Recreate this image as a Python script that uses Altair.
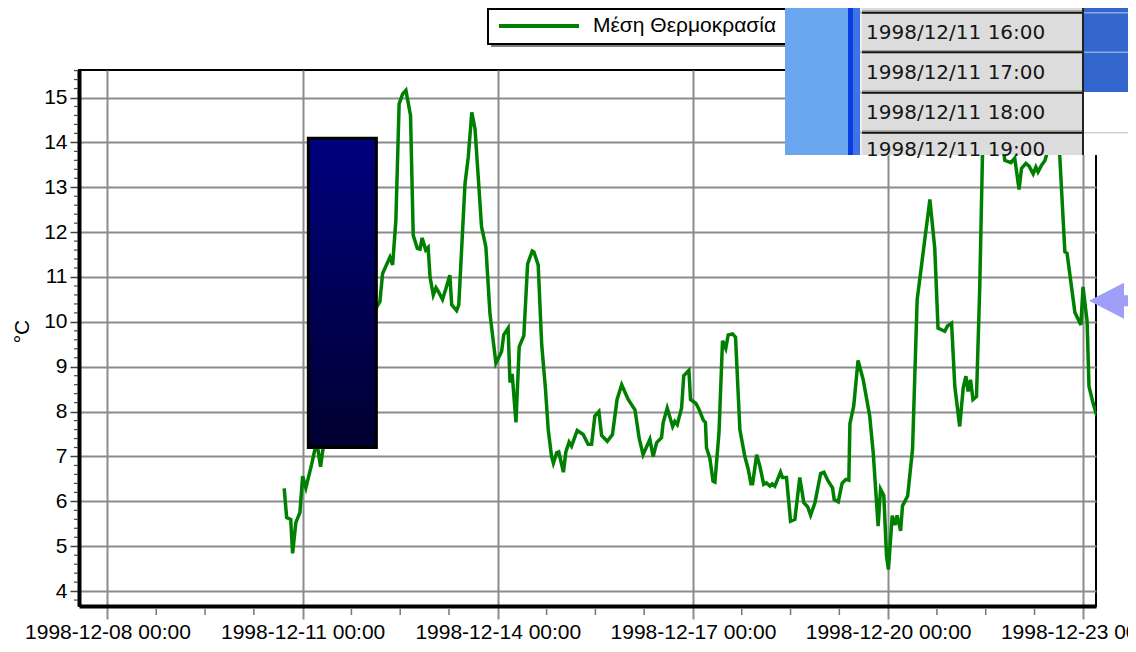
import altair as alt
import pandas as pd

# ---------------- values ----------------
series_name = "Μέση Θερμοκρασία"
y_title = "°C"
start_time = "1998-12-08 00:00"

# hours after 1998-12-08 00:00 for each traced vertex of the curve
hours = [65.2, 66.1, 67.6, 68.3, 69.5, 71.0, 72.0, 73.2, 75.3, 76.5, 77.3, 78.6,
         80.5, 83.0, 86.0, 89.0, 92.0, 95.0, 98.0,
         100.5, 101.5, 104.2, 105.2, 106.4, 107.6, 108.9, 110.1, 111.8, 112.8,
         114.3, 115.3, 116.1, 117.4, 118.3, 119.0, 120.2, 121.2, 122.4, 123.6,
         124.9, 126.3, 127.0, 128.8, 129.6, 131.9, 133.1, 134.4, 135.6, 138.0,
         139.6, 141.1, 143.3, 145.4, 146.2, 147.8, 148.5, 149.3, 150.7, 151.9,
         153.6, 155.0, 156.7, 157.3, 158.9, 160.2, 161.6, 162.6, 163.8, 164.5,
         165.7, 166.5, 168.2, 169.1, 170.3, 171.2, 173.3, 175.5, 177.3, 178.6,
         179.8, 181.3, 182.3, 184.4, 186.3, 188.0, 189.7, 192.1, 194.6, 196.2,
         197.6, 200.1, 201.3, 202.6, 204.4, 205.0, 206.5, 208.5, 209.3, 210.2,
         211.8, 212.6, 214.5, 215.1, 217.1, 218.3, 219.8, 220.6, 221.0, 222.2,
         223.4, 224.1, 225.6, 226.9, 228.1, 229.0, 230.6, 231.7, 233.3, 235.1,
         236.4, 237.4, 238.0, 239.5, 240.7, 242.1, 243.1, 244.4, 245.2, 246.2,
         248.3, 249.0, 250.5, 252.0, 253.6, 255.4, 256.9, 258.3, 259.4, 261.0,
         263.1, 264.3, 265.9, 267.5, 268.1, 269.6, 271.0, 272.4, 273.5, 273.9,
         275.3, 276.9, 278.8, 281.2, 282.5, 284.3, 285.2, 286.4, 287.4, 288.1,
         289.5, 290.5, 291.3, 292.6, 293.3, 295.2, 297.0, 298.7, 303.4, 305.2,
         306.4, 308.9, 309.9, 311.4, 312.6, 314.4, 315.7, 316.7, 317.5, 318.4,
         319.3, 320.6, 321.8, 322.8, 323.7, 325.5, 327.7, 329.9, 331.0, 333.3,
         334.7, 336.3, 337.2, 338.8, 340.0, 341.5, 342.5, 343.3, 344.6, 345.8,
         346.4, 347.6, 349.5, 350.6, 351.3, 353.2, 354.0, 356.9, 359.1, 359.9,
         361.4, 362.1, 363.6, 365.0]

temps = [6.29, 5.64, 5.6, 4.84, 5.53, 5.75, 6.56, 6.3, 6.82, 7.15, 7.3, 6.77,
         7.6, 8.3, 8.8, 9.3, 9.6, 9.9, 10.2,
         10.45, 11.08, 11.44, 11.27, 12.27, 14.86, 15.08, 15.16, 14.6, 11.93,
         11.64, 11.62, 11.87, 11.6, 11.66, 11.0, 10.6, 10.76, 10.64, 10.5,
         10.75, 11.04, 10.38, 10.25, 10.38, 13.08, 13.67, 14.67, 14.3, 12.12,
         11.67, 10.19, 9.08, 9.34, 9.71, 9.86, 8.65, 8.84, 7.76, 9.45,
         9.69, 11.29, 11.58, 11.56, 11.27, 9.49, 8.49, 7.6, 7.01, 6.85,
         7.08, 7.1, 6.65, 7.1, 7.32, 7.23, 7.58, 7.49, 7.27, 7.27,
         7.9, 8.0, 7.47, 7.34, 7.49, 8.27, 8.6, 8.27, 8.04, 7.39,
         7.04, 7.38, 7.0, 7.31, 7.42, 7.75, 8.08, 7.67, 7.78, 7.71,
         8.08, 8.8, 8.92, 8.27, 8.18, 8.04, 7.81, 7.76, 7.19, 6.97,
         6.45, 6.43, 7.53, 9.58, 9.41, 9.71, 9.73, 9.66, 7.6, 7.01,
         6.71, 6.39, 6.39, 7.04, 6.78, 6.38, 6.41, 6.34, 6.39, 6.34,
         6.65, 6.53, 6.53, 5.56, 5.6, 6.53, 5.97, 5.88, 5.69, 5.97,
         6.62, 6.65, 6.45, 6.3, 6.04, 5.99, 6.4, 6.49, 6.47, 7.73,
         8.12, 9.14, 8.71, 7.9, 7.08, 5.45, 6.27, 6.13, 4.79, 4.48,
         5.68, 5.47, 5.69, 5.34, 5.9, 6.12, 7.16, 10.49, 12.73, 11.64,
         9.86, 9.79, 9.91, 9.97, 8.56, 7.67, 8.53, 8.79, 8.45, 8.71,
         8.27, 8.34, 10.78, 13.71, 14.8, 15.4, 15.2, 14.4, 13.6, 13.55,
         13.65, 12.95, 13.42, 13.53, 13.47, 13.3, 13.45, 13.34, 13.49, 13.59,
         13.71, 14.5, 14.8, 14.3, 13.71, 11.56, 11.53, 10.21, 9.93, 10.78,
         10.01, 8.56, 8.19, 7.9]

major_days = [8, 11, 14, 17, 20, 23]           # labelled x ticks, 00:00 of these days
y_ticks = [4, 5, 6, 7, 8, 9, 10, 11, 12, 13, 14, 15]
list_items = ["1998/12/11 16:00", "1998/12/11 17:00",
              "1998/12/11 18:00", "1998/12/11 19:00"]
# dark block drawn over the plot (hours after start, temperature)
block_hours = [74.1, 99.2]
block_temps = [14.09, 7.2]

assert len(hours) == len(temps)

# ---------------- tables ----------------
t0 = pd.Timestamp(start_time)
fmt = "%Y-%m-%dT%H:%M:%S"
df = pd.DataFrame({
    "time": (t0 + pd.to_timedelta(hours, unit="h")).strftime(fmt),
    "temp": temps,
})
minor_hours = [h for h in range(18, 365, 18) if h % 72]
df_xminor = pd.DataFrame({"time": (t0 + pd.to_timedelta(minor_hours, unit="h")).strftime(fmt)})
df_yminor = pd.DataFrame({"temp": [round(k * 0.2, 1) for k in range(19, 79) if k % 5]})
df_block = pd.DataFrame({
    "time": [(t0 + pd.Timedelta(hours=block_hours[0])).strftime(fmt)],
    "t1": [(t0 + pd.Timedelta(hours=block_hours[1])).strftime(fmt)],
    "temp": [block_temps[0]], "v1": [block_temps[1]],
})
one = pd.DataFrame({"k": [0]})

W, H = 1017, 536
OX, OY = 79, 70  # page position of the plot area


def px(x):
    return x - OX


def py(y):
    return y - OY


xs = alt.Scale(domain=[alt.DateTime(year=1998, month=12, date=7, hours=13, minutes=30),
                       alt.DateTime(year=1998, month=12, date=23, hours=4, minutes=41)])
ys = alt.Scale(domain=[3.668, 15.613], nice=False, zero=False)

x_axis = alt.Axis(
    values=[alt.DateTime(year=1998, month=12, date=d) for d in major_days],
    format="%Y-%m-%d %H:%M", title=None,
    labelFont="Liberation Sans", labelFontSize=21, labelColor="black",
    labelPadding=2, labelFlush=False, labelOverlap=False,
    tickSize=13, tickColor="#8c8c8c", tickWidth=2,
    domainColor="black", domainWidth=4,
    grid=True, gridColor="#8c8c8c", gridWidth=2, gridOpacity=1,
)
y_axis = alt.Axis(
    values=y_ticks, title=y_title,
    titleFont="Liberation Sans", titleFontSize=21, titleFontWeight="normal",
    titleColor="black", titleAngle=270, titleX=-57, titleY=261,
    titleAlign="center", titleBaseline="middle",
    labelFont="Liberation Sans", labelFontSize=21, labelColor="black",
    labelPadding=3, tickSize=9, tickColor="#444444", tickWidth=1.5,
    domainColor="black", domainWidth=4,
    grid=True, gridColor="#8c8c8c", gridWidth=2, gridOpacity=1,
)

X = alt.X("time:T", scale=xs, axis=x_axis)
Y = alt.Y("temp:Q", scale=ys, axis=y_axis)

line = alt.Chart(df).mark_line(color="#008000", strokeWidth=3.5, clip=True).encode(x=X, y=Y)

x_minor = alt.Chart(df_xminor).mark_rule(color="#777777", strokeWidth=1.5).encode(
    x=X, y=alt.value(H + 2), y2=alt.value(H + 9),
)
y_minor = alt.Chart(df_yminor).mark_rule(color="#444444", strokeWidth=1.2).encode(
    y=Y, x=alt.value(-5), x2=alt.value(-1),
)

block = alt.Chart(df_block).mark_rect(
    fill=alt.LinearGradient(gradient="linear", x1=0, x2=0, y1=0, y2=1,
                            stops=[alt.GradientStop(color="#00007e", offset=0),
                                   alt.GradientStop(color="#000030", offset=1)]),
    stroke="black", strokeWidth=3,
).encode(x=X, x2="t1:T", y=Y, y2="v1:Q")


def box(x0, y0, x1, y1, **kw):
    return alt.Chart(one).mark_rect(**kw).encode(
        x=alt.value(px(x0)), x2=alt.value(px(x1)),
        y=alt.value(py(y0)), y2=alt.value(py(y1)))


def hline(x0, x1, y, color, w):
    return alt.Chart(one).mark_rule(color=color, strokeWidth=w).encode(
        x=alt.value(px(x0)), x2=alt.value(px(x1)), y=alt.value(py(y)))


def vline(x, y0, y1, color, w):
    return alt.Chart(one).mark_rule(color=color, strokeWidth=w).encode(
        x=alt.value(px(x)), y=alt.value(py(y0)), y2=alt.value(py(y1)))


def label(x, y, text, **kw):
    return alt.Chart(one).mark_text(text=text, align="left", **kw).encode(
        x=alt.value(px(x)), y=alt.value(py(y)))


# legend drawn by hand (it is partly hidden by the list window)
legend = [
    box(491, 12, 795, 47, fill="#808080"),
    box(488, 9, 792, 44, fill="white", stroke="black", strokeWidth=2),
    hline(499, 579, 26, "#008000", 4),
    label(593, 26, series_name, baseline="middle", font="Liberation Sans",
          fontSize=21, color="black"),
]

# list window in the upper right corner
row_lines = [12.7, 52.3, 92.7, 132.7]
overlay = [
    box(785, 0, 848, 155, fill="#6ba6f0"),
    box(848, 0, 853, 155, fill="#0a3ce0"),
    box(853, 0, 860, 155, fill="#3f72e6"),
    box(860, 0, 1083, 155, fill="#dcdcdc"),
    box(1083, 0, 1136, 92, fill="#3366cc"),
    box(1083, 92, 1136, 155, fill="white"),
    hline(1083, 1136, 132.7, "#cfcfcf", 1.5),
]
for yl in row_lines:
    overlay.append(hline(860, 1083, yl - 1.8, "#a8a292", 1.2))
    overlay.append(hline(860, 1083, yl, "#111111", 2))
for yl in row_lines[:2]:
    overlay.append(hline(1083, 1136, yl, "#8ea9e3", 1.5))
overlay.append(vline(861, 0, 155, "#f4f4f4", 1.5))
overlay.append(vline(1083, 0, 155, "#222222", 2))
for i, txt in enumerate(list_items):
    base = 39.3 + 40 * i if i < 3 else 156
    overlay.append(label(866, base, txt, baseline="alphabetic",
                         font="DejaVu Sans", fontSize=20, color="#161616"))

arrow_path = ("M -1 0 L 0.489 -0.766 L 0.489 -0.234 L 1 -0.234 L 1 0.234 "
              "L 0.489 0.234 L 0.489 0.766 Z")
arrow = alt.Chart(one).mark_point(shape=arrow_path, size=2209, filled=True,
                                  fill="#9f9ff7", opacity=1, strokeWidth=0).encode(
    x=alt.value(px(1112.5)), y=alt.value(py(300.7)))

chart = alt.layer(line, x_minor, y_minor, block, *legend, *overlay, arrow).properties(
    width=W, height=H,
    padding={"left": 71, "top": 62, "right": 32, "bottom": 46},
    autosize=alt.AutoSizeParams(type="none"),
    background="white",
).configure_view(
    stroke="black", strokeWidth=2,
)

chart.save("out.html", embed_options={"renderer": "svg", "actions": False})
